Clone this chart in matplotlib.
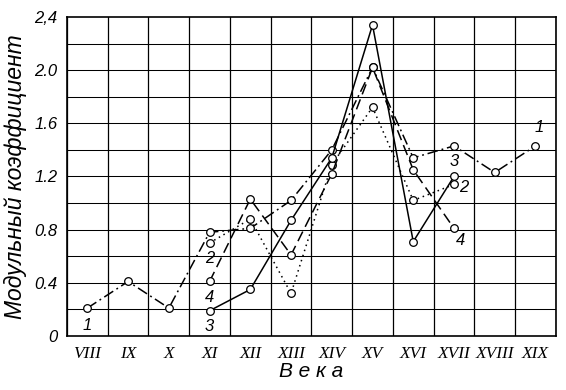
import matplotlib.pyplot as plt
import numpy as np

#Centuries on the x axis
centuries = ["VIII", "IX", "X", "XI", "XII", "XIII", "XIV", "XV", "XVI", "XVII", "XVIII", "XIX"]

#series 1 covers all centuries, 2-4 start at XI and end at XVII
s1 = [0.21, 0.41, 0.21, 0.78, 0.81, 1.02, 1.40, 2.02, 1.34, 1.43, 1.23, 1.43]
s2 = [0.70, 0.88, 0.32, 1.29, 1.72, 1.02, 1.14]
s3 = [0.19, 0.35, 0.87, 1.34, 2.34, 0.71, 1.20]
s4 = [0.41, 1.03, 0.61, 1.22, 2.02, 1.25, 0.81]

yticks = [0, 0.4, 0.8, 1.2, 1.6, 2.0, 2.4]
ytickLabels = ["0", "0.4", "0.8", "1.2", "1.6", "2.0", "2,4"]

fig = plt.figure(figsize=(5.66, 3.90), dpi=100)
ax = fig.add_axes([0.1184, 0.1385, 0.8636, 0.8180])

x1 = np.arange(len(centuries))
x2 = np.arange(3, 3 + len(s2))

mk = dict(marker="o", markersize=5.5, markerfacecolor="white", markeredgecolor="black",
          markeredgewidth=0.9, color="black", linewidth=1.1)

ax.plot(x1, s1, linestyle=(0, (7, 2.5, 1.2, 2.5)), **mk)
ax.plot(x2, s2, linestyle=(0, (1, 2.5)), **mk)
ax.plot(x2, s3, linestyle="-", **mk)
ax.plot(x2, s4, linestyle=(0, (7, 3.5)), **mk)

#grid: cell boundaries vertically, every 0.2 horizontally
for xv in np.arange(-0.5, len(centuries), 1.0):
	ax.axvline(xv, color="black", linewidth=0.9, zorder=0)
for yv in np.arange(0.2, 2.4, 0.2):
	ax.axhline(yv, color="black", linewidth=0.75, zorder=0)

ax.set_xlim(-0.5, len(centuries) - 0.5)
ax.set_ylim(0, 2.4)

ax.set_xticks(x1)
ax.set_xticklabels(centuries, family="Liberation Serif", style="italic", fontsize=12.5)
ax.set_yticks(yticks)
ax.set_yticklabels(ytickLabels, family="Liberation Sans", style="italic", fontsize=12)
ax.tick_params(length=0, pad=7)

for sp in ax.spines.values():
	sp.set_linewidth(1.2)

#curve numbers
lab = dict(family="Liberation Sans", style="italic", fontsize=12, ha="center", va="center")
ax.text(0, 0.08, "1", **lab)
ax.text(11.1, 1.57, "1", **lab)
ax.text(3, 0.58, "2", **lab)
ax.text(3, 0.29, "4", **lab)
ax.text(3, 0.07, "3", **lab)
ax.text(9.0, 1.31, "3", **lab)
ax.text(9.25, 1.12, "2", **lab)
ax.text(9.15, 0.72, "4", **lab)

ax.set_xlabel("В е к а", family="Liberation Sans", style="italic", fontsize=15, labelpad=0)
ax.set_ylabel("Модульный коэффициент", family="Liberation Sans", style="italic", fontsize=16.5, labelpad=5)

plt.savefig("out.png", dpi=100)
